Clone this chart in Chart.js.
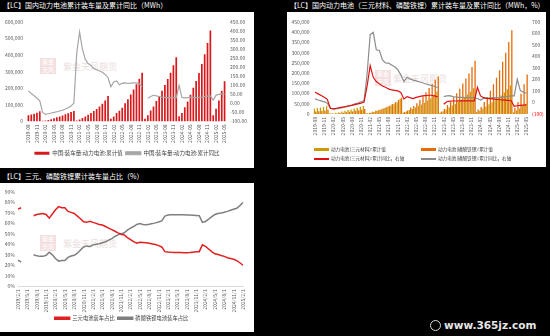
<!DOCTYPE html>
<html>
<head>
<meta charset="utf-8">
<script src="https://cdn.jsdelivr.net/npm/chart.js@4.4.1/dist/chart.umd.min.js"></script>
<style>
  html, body { margin: 0; padding: 0; background: #000; width: 550px; height: 336px; overflow: hidden; font-family: "Noto Sans CJK SC", sans-serif; }
  .title { position: absolute; color: #fff; font-size: 7px; line-height: 9px; white-space: nowrap; }
  .panel { position: absolute; background: #fff; overflow: hidden; }
  .panel canvas { position: absolute; left: 0; top: 0; }
  .wm { position: absolute; color: #ecdede; font-size: 9px; white-space: nowrap; }
  .logo { position: absolute; width: 16px; height: 16px; background: #f4e0e0; color: #fff; font-size: 6px; line-height: 8px; text-align: center; }
  .lg { position: absolute; font-size: 4.6px; color: #404040; white-space: nowrap; line-height: 6px; }
  .lg i { display: inline-block; width: 15px; vertical-align: middle; margin-right: 2px; }
  .site { position: absolute; left: 444px; top: 319px; color: #e6e6e6; font: bold 10.5px "DejaVu Sans", sans-serif; white-space: nowrap; }
  .siteicon { position: absolute; left: 430px; top: 320px; width: 11px; height: 11px; border-radius: 6px; border: 1.5px solid #d8d8d8; box-sizing: border-box; }
</style>
</head>
<body>
<div class="title" style="left:3px; top:1px;">【LC】国内动力电池累计装车量及累计同比（MWh）</div>
<div class="title" style="left:290px; top:1px;">【LC】国内动力电池（三元材料、磷酸铁锂）累计装车量及累计同比（MWh，%）</div>
<div class="title" style="left:3px; top:172px;">【LC】三元、磷酸铁锂累计装车量占比（%）</div>

<div class="panel" style="left:0; top:12px; width:254px; height:156px;">
  <div class="logo" style="left:40px; top:46px;">紫金<br>天风</div>
  <div class="wm" style="left:63px; top:48px;">紫金天风期货</div>
  <canvas id="c1" width="254" height="156"></canvas>
</div>

<div class="panel" style="left:287px; top:12px; width:259px; height:155px;">
  <div class="logo" style="left:88px; top:58px;">紫金<br>天风</div>
  <div class="wm" style="left:106px; top:60px;">紫金天风期货</div>
  <canvas id="c2" width="259" height="155"></canvas>
  <div class="lg" style="left:27px; top:134px;"><i style="height:3px; background:#CC9A06;"></i>动力电池(三元材料):累计值</div>
  <div class="lg" style="left:134px; top:134px;"><i style="height:3px; background:#E46C0A;"></i>动力电池(磷酸铁锂):累计值</div>
  <div class="lg" style="left:27px; top:143px;"><i style="height:1.5px; background:#E01010;"></i>动力电池(三元材料):累计同比，右轴</div>
  <div class="lg" style="left:134px; top:143px;"><i style="height:1.5px; background:#8C8C8C;"></i>动力电池(磷酸铁锂):累计同比，右轴</div>
</div>

<div class="panel" style="left:0; top:183px; width:254px; height:149px;">
  <div class="logo" style="left:40px; top:52px;">紫金<br>天风</div>
  <div class="wm" style="left:63px; top:54px;">紫金天风期货</div>
  <canvas id="c3" width="254" height="149"></canvas>
</div>

<div class="siteicon"></div>
<div class="site">www.365jz.com</div>

<script>
Chart.defaults.font.family = '"Noto Sans CJK SC", sans-serif';
Chart.defaults.color = "#595959";
Chart.defaults.animation = false;

//////////// 월별 라벨 ////////
// 2019-08 ~ 2025-05 (图1, 图2)
const monthsA = [];
for (let y = 2019; y <= 2025; y++) {
  for (let m = 1; m <= 12; m++) {
    if (y === 2019 && m < 8) continue;
    if (y === 2025 && m > 5) continue;
    monthsA.push(y + "-" + String(m).padStart(2, "0"));
  }
}
// 2019/2/1 ~ 2025/2/1 (图3)
const monthsB = [];
for (let y = 2019; y <= 2025; y++) {
  for (let m = 1; m <= 12; m++) {
    if (y === 2019 && m < 2) continue;
    if (y === 2025 && m > 2) continue;
    monthsB.push(y + "/" + m + "/1");
  }
}

// 图1: 装车量累计值 (MWh) / 累计同比 (%)
const totalCum = [
  38000, 42500, 46500, 52500, 62200,
  4200, 5600, 8900, 14000, 19600, 25300, 30200, 35800, 43000, 50000, 57000, 63600,
  5500, 11600, 21400, 30400, 40300, 51600, 62900, 75400, 90900, 106300, 126800, 154500,
  16200, 30000, 51200, 64500, 83400, 110100, 134300, 162100, 193700, 224200, 258200, 294600,
  16100, 37900, 65900, 91000, 123200, 152100, 184900, 219500, 256000, 293700, 338600, 387700,
  32300, 50600, 86300, 120000, 162000, 203300, 244200, 292000, 346400, 405100, 473500, 548400,
  38200, 76300, 127100, 184700, 242300,
];
const totalYoy = [
  69, 55, 42, 30, 14,
  -50, -60, -57, -53, -50, -46, -42, -38, -31, -24, -14, 2,
  280, 395, 300, 243, 220, 210, 192, 186, 179, 172, 160, 142,
  92, 118, 124, 103, 112, 113, 110, 112, 113, 113, 108, 92,
  null, 28, 38, 45, 42, 38, 35, 33, 32, 32, 32, 32,
  100, 33, 31, 32, 32, 33, 32, 33, 35, 38, 40, 41,
  18, 46, 50, 54, 52,
];

// 图2: 三元材料 / 磷酸铁锂
const ncmCum = [
  25800, 28900, 31500, 34600, 40800,
  3100, 3600, 6100, 9000, 12200, 15800, 19000, 22200, 26600, 30600, 34900, 38900,
  3300, 6100, 11200, 15300, 19800, 24700, 29900, 35100, 41600, 48100, 58000, 74300,
  6700, 12400, 19500, 24900, 31400, 40100, 46800, 55400, 65800, 75500, 90200, 110400,
  5400, 13000, 22100, 31400, 41000, 50100, 60600, 70500, 82300, 94900, 108500, 126200,
  10000, 16000, 27100, 37100, 47600, 57300, 67400, 78200, 91100, 105100, 121400, 139000,
  8800, 17000, 27500, 38600, 49600,
];
const lfpCum = [
  12500, 13500, 14800, 16500, 20800,
  900, 1000, 2200, 3600, 5700, 8000, 10400, 12800, 15500, 18100, 21000, 24400,
  2200, 5700, 10000, 15400, 21200, 27200, 33200, 40300, 49000, 57800, 68300, 79800,
  9500, 17600, 31600, 39500, 52000, 69800, 87300, 106400, 127500, 148300, 167600, 183800,
  10600, 24800, 43600, 59400, 82000, 101600, 124000, 148600, 173400, 198500, 229800, 261000,
  22300, 34600, 59200, 82800, 114300, 145900, 176700, 213700, 255200, 299800, 352000, 409100,
  29400, 59200, 99600, 146000, 192600,
];
const ncmYoy = [
  89, 75, 60, 45, 28,
  -50, -55, -50, -45, -40, -35, -30, -25, -18, -12, -6, 4,
  144, 320, 219, 182, 162, 144, 133, 118, 109, 106, 101, 88,
  31, 51, 42, 34, 45, 51, 57, 60, 63, 63, 57, 49,
  null, -15, 7, 12, 13, 13, 14, 14, 14, 14, 14, 14,
  132, 57, 42, 36, 34, 31, 28, 26, 22, 20, 18, 15,
  -34, -28, -25, -22, -20,
];
const lfpYoy = [
  31, 22, 14, 6, -7,
  -50, -57, -55, -50, -45, -38, -30, -22, -12, -5, 5, 17,
  250, 590, 610, 458, 452, 371, 345, 342, 327, 310, 285, 240,
  182, 220, 205, 195, 188, 180, 172, 163, 155, 148, 140, 130,
  null, 51, 57, 60, 51, 48, 45, 44, 43, 42, 42, 42,
  35, 22, 36, 40, 39, 43, 43, 44, 47, 51, 53, 57,
  57, 202, 103, 89, 80,
];

// 图3: 装车量占比 (%)
const ncmShare = [
  73.6, 75, null, null, null, 67.3, 68.5, 69, 69.5, 68.5, 65, 69, 73, 76, 75, 75,
  71.5, 70.5, 69.5, 67, 64.5, 61.5, 61, 62, 61, 60, 59, 58.5, 57, 55.5, 54, 52.5,
  51, 49.7, 49, 46.5, 44.5, 42.5, 41, 42, 41.8, 41.5, 41, 40.4, 39.8, 38.8, 37.5, 33,
  32.6, 32.4, 32.3, 32.2, 32.1, 32, 32, 32.2, 32.5, 32.8, 33, 39.5, 38, 35.5, 33, 31,
  30.3, 29.3, 28.5, 27.2, 26.5, 25.7, 24.5, 22.4, 20,
];
const lfpShare = [
  25, 23, null, null, null, 30, 29, 28.5, 28.5, 29.5, 32.5, 30, 26.5, 24, 24.5, 24.5,
  27.5, 28.8, 29.5, 31.5, 34.5, 37.5, 38.5, 38, 39.5, 40, 40.5, 41.5, 42.5, 44, 45.5, 47.5,
  49, 50, 51, 53.5, 55.5, 57, 59, 59.8, 59, 58.8, 59.2, 59.8, 60.5, 61.3, 62.3, 67,
  68, 68.2, 68.3, 68.3, 68.3, 68.2, 68.1, 68, 67.8, 67.6, 67.4, 61, 61.8, 64, 66.5, 68.5,
  69.5, 70, 70.7, 71.5, 72.5, 73.5, 74.5, 77, 80,
];

const tickFont = { size: 5 };
const noGrid = { display: false, drawTicks: false };
const every3 = function (v, i) {
  return i % 3 === 0 ? this.getLabelForValue(v) : null;
};
const byIndex = (a, b) => a.datasetIndex - b.datasetIndex;

// 图1
new Chart(document.getElementById("c1"), {
  type: "bar",
  data: {
    labels: monthsA,
    datasets: [
      {
        label: "中国:装车量:动力电池:累计值",
        data: totalCum,
        backgroundColor: "#D7191C",
        barPercentage: 0.6,
        categoryPercentage: 1,
        yAxisID: "y",
        order: 2,
      },
      {
        type: "line",
        label: "中国:装车量:动力电池:累计同比",
        data: totalYoy,
        borderColor: "#A6A6A6",
        backgroundColor: "#A6A6A6",
        borderWidth: 1.2,
        pointRadius: 0,
        yAxisID: "y1",
        order: 1,
      },
    ],
  },
  options: {
    responsive: false,
    layout: { padding: { top: 10, bottom: 2 } },
    plugins: {
      legend: {
        position: "bottom",
        labels: { boxWidth: 15, boxHeight: 3, padding: 3, color: "#404040", font: { size: 5.5 }, sort: byIndex },
      },
      tooltip: { enabled: false },
    },
    scales: {
      x: {
        grid: noGrid,
        border: { display: false },
        ticks: { autoSkip: false, minRotation: 90, maxRotation: 90, padding: 3, font: tickFont, callback: every3 },
        afterFit: (s) => { s.height = 26; },
      },
      y: {
        position: "left",
        min: 0,
        max: 600000,
        grid: noGrid,
        border: { display: false },
        ticks: { stepSize: 100000, padding: 4, font: tickFont, callback: (v) => v.toLocaleString("en-US") },
        afterFit: (s) => { s.width = 27; },
      },
      y1: {
        position: "right",
        min: -100,
        max: 450,
        grid: noGrid,
        border: { display: false },
        ticks: { stepSize: 50, padding: 4, font: tickFont, callback: (v) => v.toFixed(2) },
        afterFit: (s) => { s.width = 28; },
      },
    },
  },
});

// 图2
new Chart(document.getElementById("c2"), {
  type: "bar",
  data: {
    labels: monthsA,
    datasets: [
      {
        label: "动力电池(三元材料):累计值",
        data: ncmCum,
        backgroundColor: "#CC9A06",
        barPercentage: 0.95,
        categoryPercentage: 0.9,
        yAxisID: "y",
        order: 3,
      },
      {
        label: "动力电池(磷酸铁锂):累计值",
        data: lfpCum,
        backgroundColor: "#E46C0A",
        barPercentage: 0.95,
        categoryPercentage: 0.9,
        yAxisID: "y",
        order: 3,
      },
      {
        type: "line",
        label: "动力电池(三元材料):累计同比，右轴",
        data: ncmYoy,
        borderColor: "#E01010",
        borderWidth: 1.2,
        pointRadius: 0,
        yAxisID: "y1",
        order: 1,
      },
      {
        type: "line",
        label: "动力电池(磷酸铁锂):累计同比，右轴",
        data: lfpYoy,
        borderColor: "#8C8C8C",
        borderWidth: 1.2,
        pointRadius: 0,
        yAxisID: "y1",
        order: 2,
      },
    ],
  },
  options: {
    responsive: false,
    layout: { padding: { top: 10, bottom: 25 } },
    plugins: { legend: { display: false }, tooltip: { enabled: false } },
    scales: {
      x: {
        grid: noGrid,
        border: { display: false },
        ticks: { autoSkip: false, minRotation: 90, maxRotation: 90, padding: 3, font: tickFont, callback: every3 },
        afterFit: (s) => { s.height = 28; },
      },
      y: {
        position: "left",
        min: 0,
        max: 450000,
        grid: noGrid,
        border: { display: false },
        ticks: { stepSize: 50000, padding: 4, font: tickFont, callback: (v) => v.toLocaleString("en-US") },
        afterFit: (s) => { s.width = 26.5; },
      },
      y1: {
        position: "right",
        min: -100,
        max: 700,
        grid: noGrid,
        border: { display: false },
        ticks: {
          stepSize: 100,
          padding: 4,
          font: tickFont,
          color: (c) => (c.tick && c.tick.value < 0 ? "#FF0000" : "#595959"),
          callback: (v) => (v < 0 ? "(" + Math.abs(v) + ")" : String(v)),
        },
        afterFit: (s) => { s.width = 18; },
      },
    },
  },
});

// 图3
new Chart(document.getElementById("c3"), {
  type: "line",
  data: {
    labels: monthsB,
    datasets: [
      {
        label: "三元电池装车占比",
        data: ncmShare,
        borderColor: "#E02020",
        backgroundColor: "#E02020",
        borderWidth: 1.5,
        pointRadius: 0,
      },
      {
        label: "磷酸铁锂电池装车占比",
        data: lfpShare,
        borderColor: "#7F7F7F",
        backgroundColor: "#7F7F7F",
        borderWidth: 1.5,
        pointRadius: 0,
      },
    ],
  },
  options: {
    responsive: false,
    layout: { padding: { top: 9, bottom: 1, right: 11 } },
    plugins: {
      legend: {
        position: "bottom",
        labels: { boxWidth: 15, boxHeight: 2, padding: 3, color: "#404040", font: { size: 5.3 } },
      },
      tooltip: { enabled: false },
    },
    scales: {
      x: {
        grid: noGrid,
        border: { display: true, color: "#D9D9D9" },
        ticks: { autoSkip: false, minRotation: 90, maxRotation: 90, padding: 3, font: tickFont, callback: every3 },
        afterFit: (s) => { s.height = 26.5; },
      },
      y: {
        min: 0,
        max: 90,
        grid: noGrid,
        border: { display: false },
        ticks: { stepSize: 10, padding: 3, font: tickFont, callback: (v) => v + "%" },
        afterFit: (s) => { s.width = 18; },
      },
    },
  },
});
</script>
</body>
</html>
